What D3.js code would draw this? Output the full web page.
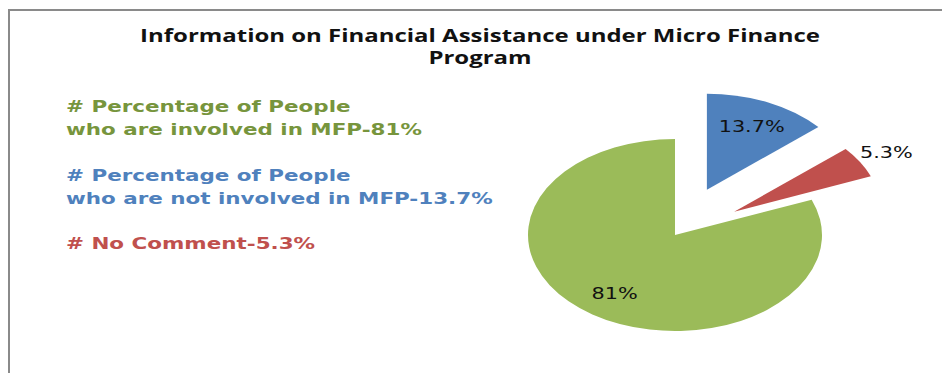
<!DOCTYPE html>
<html>
<head>
<meta charset="utf-8">
<script src="https://cdn.jsdelivr.net/npm/d3@7"></script>
<style>
  html, body { margin: 0; padding: 0; background: #fff; }
  svg { display: block; }
</style>
</head>
<body>
<svg id="chart" width="942" height="373"></svg>
<script>
// Survey answers on micro finance participation
const categories = ["Not involved in MFP", "No Comment", "Involved in MFP"];
const values = [13.7, 5.3, 81];
const sliceLabels = ["13.7%", "5.3%", "81%"];
const titleLines = ["Information on Financial Assistance under Micro Finance", "Program"];
const legendLines = [
  ["# Percentage of People", "who are involved in MFP-81%"],
  ["# Percentage of People", "who are not involved in MFP-13.7%"],
  ["# No Comment-5.3%"]
];
const legendOrder = [2, 0, 1]; // index into categories for each legend block

const fills = ["#4F81BD", "#C0504D", "#9BBB59"];
const legendColors = ["#4F81BD", "#C0504D", "#77953D"];

const W = 942, H = 373;
const svg = d3.select("#chart");

// frame
svg.append("rect")
  .attr("x", 9).attr("y", 10)
  .attr("width", W + 20).attr("height", H + 20)
  .attr("fill", "none").attr("stroke", "#8a8a8a").attr("stroke-width", 2);

// title
const title = svg.append("g");
titleLines.forEach((t, i) => {
  title.append("text")
    .attr("transform", `translate(480,${42 + i * 22}) scale(1.41,1)`)
    .attr("text-anchor", "middle")
    .attr("font-family", "'Open Sans', sans-serif")
    .attr("font-weight", 700)
    .attr("font-size", 17)
    .attr("fill", "#111")
    .text(t);
});

// legend text blocks
const legendTop = [112, 181, 249];
legendOrder.forEach((ci, bi) => {
  legendLines[bi].forEach((line, li) => {
    svg.append("text")
      .attr("transform", `translate(66,${legendTop[bi] + li * 23}) scale(1.3,1)`)
      .attr("font-family", "'DejaVu Sans', sans-serif")
      .attr("font-weight", 700)
      .attr("font-size", 16.5)
      .attr("fill", legendColors[ci])
      .text(line);
  });
});

// elliptical pie
const cx = 675, cy = 235, rx = 147, ry = 96;
const explode = [0.52, 0.47, 0];

const pie = d3.pie().sort(null).value(d => d)
  .startAngle(0).endAngle(2 * Math.PI);
const arcs = pie(values);
const arc = d3.arc().innerRadius(0).outerRadius(rx);

const pieG = svg.append("g");
arcs.forEach((a, i) => {
  const mid = (a.startAngle + a.endAngle) / 2;
  const ox = Math.sin(mid) * explode[i] * rx;
  const oy = -Math.cos(mid) * explode[i] * ry;
  pieG.append("path")
    .attr("transform", `translate(${cx + ox},${cy + oy}) scale(1,${ry / rx})`)
    .attr("d", arc(a))
    .attr("fill", fills[i]);

  // label placement: inside for large slices, outside for small one
  const k = values[i] < 8 ? 1.21 : 0.73;
  const lx = cx + ox + Math.sin(mid) * k * rx;
  const ly = cy + oy - Math.cos(mid) * k * ry;
  pieG.append("text")
    .attr("transform", `translate(${lx},${ly + 6}) scale(1.3,1)`)
    .attr("text-anchor", "middle")
    .attr("font-family", "'DejaVu Sans', sans-serif")
    .attr("font-size", 16)
    .attr("fill", "#111")
    .text(sliceLabels[i]);
});
</script>
</body>
</html>
